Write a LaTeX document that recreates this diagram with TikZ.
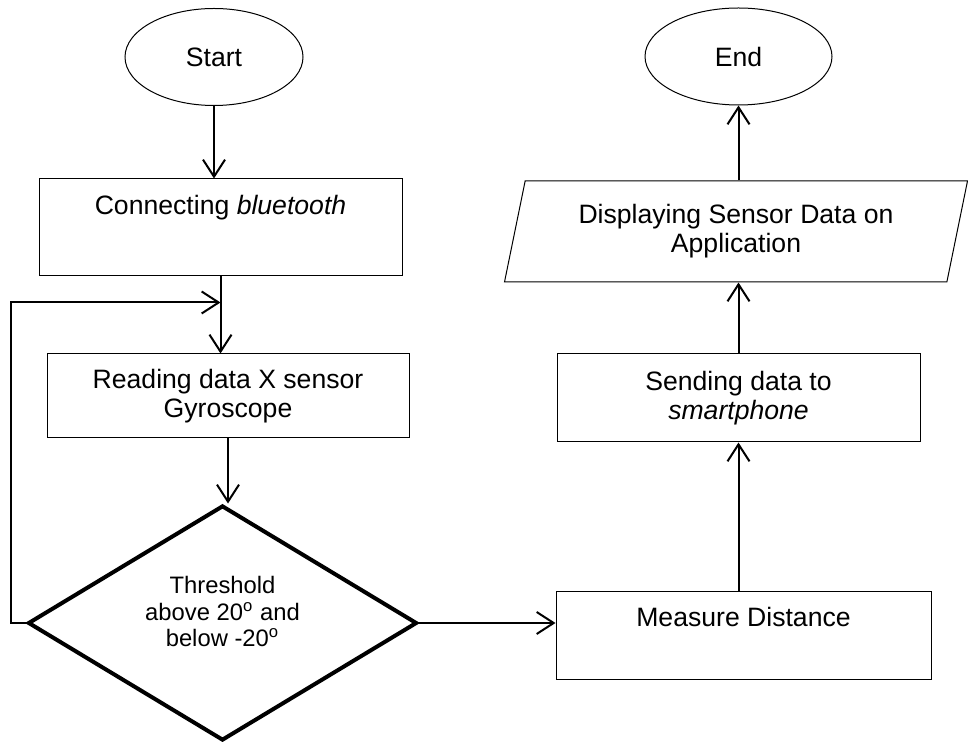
\documentclass[tikz,border=0pt]{standalone}
\usepackage{fontspec}
\setmainfont{Liberation Sans}
\usetikzlibrary{shapes.geometric,arrows.meta}
\tikzset{
  flowtext/.style={font=\fontsize{13.3pt}{14.5pt}\selectfont, align=center},
  terminal/.style={flowtext, ellipse, draw, line width=0.5pt, inner sep=0pt},
  process/.style={flowtext, rectangle, draw, line width=0.5pt, inner sep=0pt},
  topline/.style={text height=17.8pt, text depth=#1},
  decision/.style={diamond, draw, line width=2pt, inner sep=0pt},
  inout/.style={flowtext, trapezium, trapezium left angle=69, trapezium right angle=111,
    trapezium stretches body, draw, line width=0.5pt, inner sep=0pt},
  flow/.style={-{Straight Barb[length=8.5pt,width=11pt]}, line width=1pt},
}
\begin{document}
\begin{tikzpicture}[x=0.5pt,y=-0.5pt]
\useasboundingbox (0,0) rectangle (968,742);

% Left column
\node[terminal, minimum width=89pt, minimum height=48.5pt] (start) at (214,57) {Start};
\node[process, topline=30.7pt, minimum width=181.5pt] (conn) at (220.5,227.5) {Connecting \textit{bluetooth}};
\node[process, minimum width=181pt, minimum height=42pt] (read) at (228,396) {Reading data X sensor\\Gyroscope};
\node[decision, minimum width=194.5pt, minimum height=117.5pt] (thr) at (222.5,623) {};
\node[align=center, font=\fontsize{11.9pt}{13.25pt}\selectfont] (thrtext) at ([yshift=5.75pt]thr.center)
  {Threshold\\above 20\textsuperscript{o} and\\below -20\textsuperscript{o}};

% Right column
\node[process, topline=26.2pt, minimum width=187.5pt] (meas) at (743.5,635) {Measure Distance};
\node[process, minimum width=181.5pt, minimum height=44pt] (send) at (738.5,398) {Sending data to\\\textit{smartphone}};
\node[inout, minimum width=231.5pt, minimum height=50.5pt] (disp) at (736,231.5) {Displaying Sensor Data on\\Application};
\node[terminal, minimum width=93.5pt, minimum height=48.5pt] (end) at (738.5,56.5) {End};

% Connectors
\coordinate (merge) at ([yshift=-13pt]conn.south);
\draw[flow] (start.south) -- (start.south |- conn.north);
\draw[flow] (conn.south) -- (conn.south |- read.north);
\draw[flow] (thr.west) -- ++(-15,0) |- (merge);
\draw[flow] (read.south) -- (read.south |- thr.north);
\draw[flow] (thr.east) -- (thr.east -| meas.west);
\draw[flow] (send.south |- meas.north) -- (send.south);
\draw[flow] (send.north) -- (send.north |- disp.south);
\draw[flow] (end.south |- disp.north) -- (end.south);
\end{tikzpicture}
\end{document}
